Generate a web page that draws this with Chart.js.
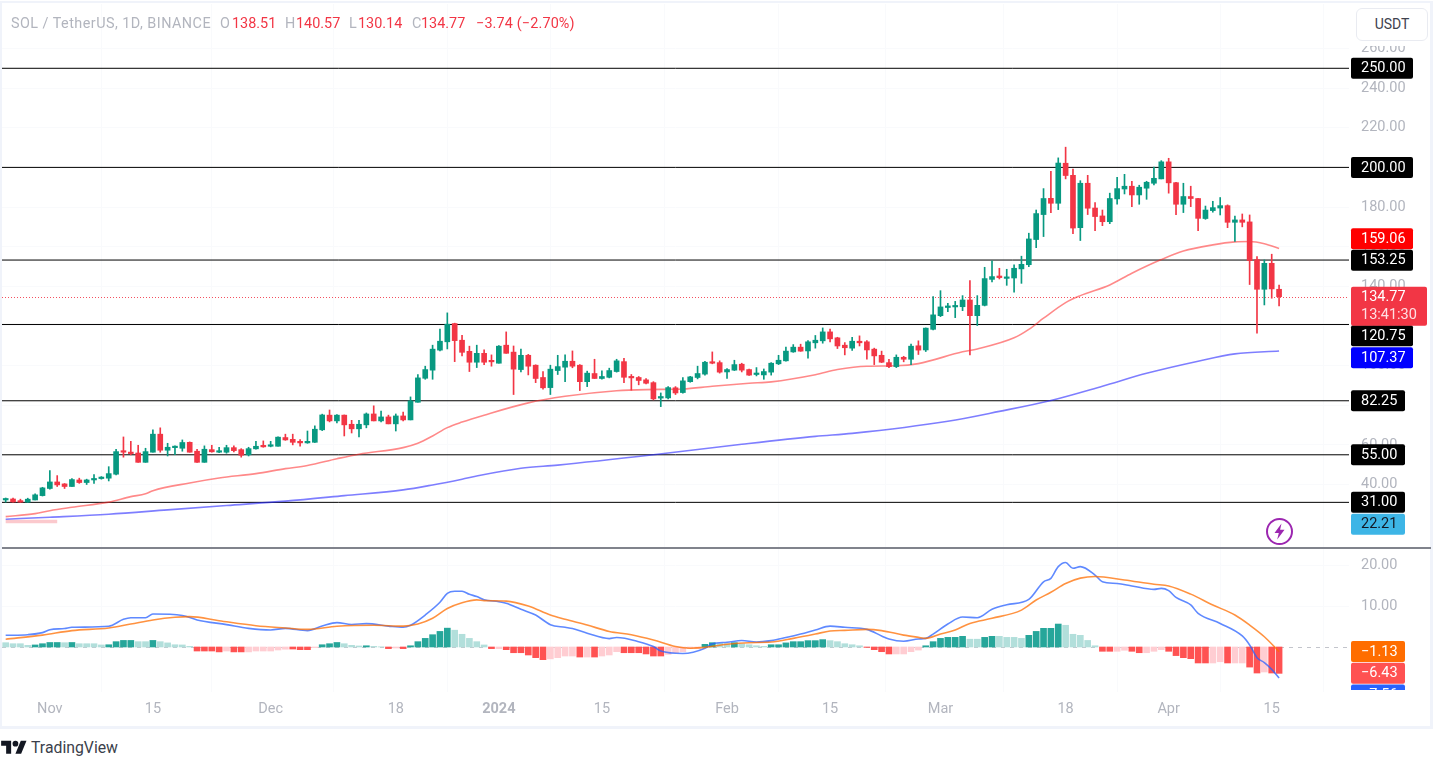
<!DOCTYPE html>
<html><head><meta charset="utf-8">
<script src="https://cdn.jsdelivr.net/npm/chart.js@4"></script>
<style>
html,body{margin:0;padding:0;background:#fff;width:1436px;height:758px;overflow:hidden;font-family:Roboto,sans-serif}
#c{position:absolute;left:0;top:0;filter:blur(.35px)}
.frame{position:absolute;left:0;top:1px;width:1428px;height:723px;border:2px solid #f0f3fa;border-width:2px 3px 3px 2px;pointer-events:none}
.sep{position:absolute;left:2px;top:547px;width:1429px;height:1.5px;background:#80838c}
.hdr{position:absolute;top:15px;font-size:14.4px;line-height:17px;white-space:nowrap}
.g{color:#b2b5be}.r{color:#f23645}
.usdtbg{position:absolute;left:1352px;top:4px;width:78px;height:42px;background:#fff}
.usdt{position:absolute;left:1356px;top:8px;width:70px;height:31px;border:1px solid #e9ebf1;border-radius:6px;background:#fff;color:#3e424e;font-size:14px;line-height:31px;text-align:center}
.tv{position:absolute;left:31px;top:739px;font-size:15.8px;line-height:18px;color:#3b3f4b}
svg{position:absolute}
</style></head><body>
<canvas id="c" width="1436" height="725"></canvas>
<div class="frame"></div><div class="sep"></div>
<div class="hdr g" style="left:11px;letter-spacing:.46px">SOL / TetherUS, 1D, BINANCE</div>
<div class="hdr g" style="left:220px">O</div><div class="hdr r" style="left:232px">138.51</div>
<div class="hdr g" style="left:285px">H</div><div class="hdr r" style="left:296px">140.57</div>
<div class="hdr g" style="left:349px">L</div><div class="hdr r" style="left:358px">130.14</div>
<div class="hdr g" style="left:412px">C</div><div class="hdr r" style="left:421px">134.77</div>
<div class="hdr r" style="left:476px;letter-spacing:.15px">−3.74 (−2.70%)</div>
<div class="usdtbg"></div><div class="usdt">USDT</div>
<svg style="left:1265px;top:517px" width="29" height="29" viewBox="0 0 29 29"><circle cx="14.5" cy="14.5" r="12.5" fill="#fff" stroke="#9c27b0" stroke-width="2"/><path d="M16.5 6.5 9.5 16h4.3l-1.6 6.5 7.3-9.8h-4.4z" fill="#9c27b0"/></svg>
<svg style="left:1px;top:738px" width="26" height="20" viewBox="0 0 36 28"><path d="M14 22H7V11H0V4h14v18zM28 22h-8l7.5-18h8L28 22z" fill="#131722"/><circle cx="20" cy="8" r="4" fill="#131722"/></svg>
<div class="tv">TradingView</div>
<script>
const opens=[32.2,32.7,31.7,31.1,32.2,34.4,38.0,41.3,40.3,39.0,
42.3,41.0,42.3,43.0,43.2,45.2,56.8,56.3,55.9,51.2,
56.3,65.4,57.3,58.6,58.3,61.3,56.8,51.2,57.6,56.3,
56.3,58.6,57.6,55.0,58.0,59.5,59.3,59.3,63.7,62.8,
61.8,61.0,61.3,67.6,75.0,72.1,75.0,70.4,68.1,70.1,
75.6,72.1,74.1,70.6,74.6,72.6,81.5,93.6,97.7,107.8,
112.0,121.2,112.8,107.2,101.7,106.2,102.4,101.2,110.3,106.8,
98.0,105.2,100.2,94.0,88.9,97.5,99.2,102.2,100.2,91.9,
96.0,93.5,94.1,97.0,102.0,94.5,94.0,92.8,91.4,83.6,
83.7,88.8,86.4,91.9,94.0,95.7,101.9,101.5,96.8,97.7,
100.7,98.0,95.5,95.3,96.7,100.9,102.4,106.9,109.3,107.4,
111.5,112.5,117.0,114.0,110.3,108.8,112.3,112.0,108.3,105.2,
101.5,99.5,104.2,103.2,110.0,107.9,118.3,125.2,129.3,129.6,
129.7,133.1,125.2,130.4,143.5,145.2,144.0,144.2,148.8,150.9,
163.6,176.2,184.4,181.9,202.1,196.0,169.6,192.0,179.5,175.5,
172.6,184.1,189.1,190.5,186.1,189.5,192.0,194.2,202.8,192.3,
181.4,185.3,184.3,174.2,178.2,179.5,180.7,172.3,173.5,172.5,
153.5,138.5,151.6,138.51];
const highs=[33.2,33.1,32.6,33.1,35.3,38.6,47.0,44.5,40.5,43.0,
43.2,42.7,45.0,44.0,49.0,57.8,64.0,61.8,59.8,58.3,
67.6,68.6,60.8,59.5,62.5,61.5,57.8,59.5,59.8,58.8,
59.8,59.5,58.1,58.8,61.8,62.0,61.8,64.0,65.4,65.4,
62.7,67.0,69.6,75.5,77.6,75.3,75.1,72.4,72.4,76.1,
79.7,77.0,75.0,75.6,76.6,84.2,95.5,99.7,110.3,118.4,
126.6,121.4,115.3,109.8,110.3,107.9,105.4,110.1,117.0,109.9,
108.3,105.7,100.4,97.0,100.2,105.2,105.4,107.4,100.5,97.2,
103.2,97.3,98.7,103.2,103.7,95.5,94.5,93.5,91.9,86.2,
89.4,89.4,94.0,94.6,99.7,102.2,106.9,102.4,98.5,102.7,
101.2,98.3,99.0,98.3,101.5,105.2,109.3,110.6,110.8,112.6,
115.2,119.0,118.4,114.3,111.6,114.3,115.0,112.6,108.8,107.3,
103.2,105.4,104.7,110.8,112.5,119.0,134.8,137.8,131.4,132.4,
135.3,142.9,135.3,149.6,152.8,149.1,148.6,150.8,155.2,166.8,
178.5,189.3,198.0,204.8,210.2,199.1,193.3,196.0,182.2,178.5,
187.0,195.0,196.5,193.0,191.0,193.0,200.1,203.4,204.6,192.5,
192.0,190.5,184.4,180.5,182.9,184.8,181.1,175.5,176.5,176.0,
155.0,153.3,156.2,140.57];
const lows=[31.1,31.1,31.0,31.0,32.2,34.2,37.6,39.0,38.0,39.0,
40.6,40.0,40.5,42.7,41.8,44.9,53.8,55.0,51.2,51.2,
56.3,56.3,54.4,55.0,56.8,56.3,51.2,51.2,56.3,56.1,
55.8,56.5,53.8,54.4,57.8,58.8,59.0,59.3,62.3,60.0,
59.3,60.8,61.2,67.2,71.6,71.1,64.5,66.0,64.0,68.6,
72.1,71.6,70.6,67.0,72.1,72.6,81.5,93.1,93.1,107.4,
108.4,102.0,104.9,97.0,99.0,100.5,99.7,101.2,106.2,85.4,
96.8,95.3,91.4,88.1,85.4,95.5,91.9,98.9,87.4,89.4,
93.5,93.1,93.8,96.7,91.4,87.6,90.3,90.8,82.7,79.3,
83.2,85.4,86.1,91.6,93.3,95.2,100.9,96.2,93.5,97.5,
96.8,95.0,94.8,93.1,95.2,100.5,102.2,106.7,107.2,103.7,
108.8,111.3,112.0,108.6,105.4,107.6,109.9,103.2,100.5,101.5,
99.0,99.0,101.9,100.5,105.6,107.1,118.0,124.7,127.2,124.2,
127.7,105.4,120.2,130.1,142.2,143.7,140.5,137.0,141.5,149.9,
159.5,165.1,177.2,178.7,194.2,166.6,163.1,176.2,168.1,170.6,
171.6,181.4,186.6,180.2,181.4,183.9,191.1,194.2,187.0,176.2,
177.2,180.2,168.1,173.8,177.4,176.0,169.6,162.6,170.0,140.9,
116.3,130.6,134.0,130.14];
const closes=[32.7,31.2,31.1,32.6,34.8,38.3,41.3,39.8,39.0,42.5,
41.0,42.3,43.0,43.5,45.5,56.6,56.3,55.6,51.2,56.6,
65.4,57.3,58.8,59.1,61.2,56.3,51.2,57.8,56.5,56.8,
58.6,57.1,54.8,58.1,59.3,59.0,60.0,63.9,62.5,61.3,
61.0,61.8,67.9,75.1,72.1,75.0,70.1,68.1,70.4,75.6,
72.1,74.1,70.6,74.6,72.6,82.2,93.8,98.0,108.3,112.3,
120.9,112.6,106.7,101.7,106.2,101.7,101.9,109.8,106.2,98.2,
105.2,99.7,93.5,88.8,98.2,99.5,102.2,99.7,91.9,96.2,
93.5,94.5,97.5,102.4,94.1,93.8,92.5,91.1,83.2,84.4,
88.9,86.2,92.3,94.3,96.0,101.7,101.2,96.7,98.0,100.5,
97.7,95.2,96.2,97.0,101.2,102.7,107.3,109.3,107.3,112.0,
112.8,117.0,113.5,109.9,109.0,112.3,111.5,107.9,104.9,101.7,
99.5,104.2,103.2,109.8,107.8,118.9,125.6,129.6,130.1,130.1,
133.1,125.2,130.4,143.9,144.9,144.4,144.7,149.1,151.1,163.9,
176.7,184.3,181.9,202.2,195.9,169.4,192.0,179.4,175.2,172.6,
184.3,189.3,190.5,186.1,190.0,192.5,194.5,202.8,192.2,181.4,
185.3,184.3,174.3,178.5,179.7,180.7,172.3,173.5,172.3,153.0,
138.5,151.6,138.7,134.77];

const ma50Bars=[0,4,6,9,14,17,19,20,25,29,34,38,41,45,48,54,56,58,60,62,65,71,76,83,87,92,96,101,104,110,113,117,121,124,130,132,137,139,141,144,146,150,153,157,160,164,167,169,171,173];
const ma50Vals=[23.8,25.3,26.8,28.5,31.1,33.9,35.3,36.9,40.8,43.3,45.5,48.0,49.6,53.0,55.3,58.6,60.8,64.5,68.7,71.5,75.0,81.2,84.5,87.3,87.9,88.2,89.6,91.1,91.8,95.4,98.0,99.7,99.9,101.0,107.0,108.4,114.0,118.3,123.9,131.8,135.3,140.7,146.6,153.5,157.8,160.9,162.4,162.6,161.5,159.06];
const ma200Bars=[0,6,14,22,30,38,46,54,58,62,64,70,75,88,100,110,115,128,135,142,149,155,162,167,173];
const ma200Vals=[22.5,23.5,25.0,27.2,29.4,31.6,34.4,37.3,39.8,42.7,44.3,48.2,49.8,55.0,60.3,64.3,65.8,71.9,76.9,82.4,89.6,96.1,102.2,105.9,107.37];
const macdBars=[0,3,5,6,8,9,14,16,17,19,20,24,26,30,33,36,38,41,43,45,47,49,52,54,55,57,59,60,61,62,63,64,65,67,68,70,72,74,76,77,79,82,83,86,88,89,92,95,96,98,100,102,104,106,108,110,112,114,117,119,120,122,124,125,126,128,130,132,134,136,139,141,142,143,144,145,146,148,149,151,153,156,157,158,159,161,162,165,168,169,170,171,172,173];
const macdVals=[2.85,3.0,3.5,4.2,4.5,4.8,5.05,6.75,7.15,7.15,8.05,7.7,6.6,5.45,4.55,4.15,4.55,4.0,5.1,5.95,5.5,5.7,5.1,4.8,5.3,7.8,10.9,13.1,13.6,13.6,12.85,12.3,11.5,11.05,10.65,9.2,7.8,5.45,4.8,4.5,3.35,2.05,2.3,1.3,0.1,-1.0,-1.6,-0.3,0.8,1.15,1.6,1.2,1.55,2.3,3.15,4.15,5.1,4.8,4.3,2.7,1.95,1.4,1.95,2.1,3.15,5.6,7.3,7.15,9.2,10.3,11.6,15.9,16.75,19.6,20.6,19.2,19.6,17.55,15.9,15.5,14.9,14.05,14.3,13.75,12.1,10.25,8.2,5.75,2.7,0.5,-2.6,-3.8,-5.45,-7.56];
const signalBars=[0,5,9,14,17,20,23,25,29,34,38,41,45,50,54,56,58,60,62,64,65,68,71,74,76,79,82,85,88,91,93,95,98,101,104,107,110,112,114,117,119,122,124,125,127,129,131,134,138,140,142,144,146,148,152,156,158,161,164,167,169,171,173];
const signalVals=[1.9,2.9,4.0,4.65,5.6,6.6,7.25,7.4,6.4,5.2,4.65,4.3,5.05,5.3,5.1,5.6,7.0,9.4,10.8,11.5,11.3,11.2,10.0,7.8,6.75,5.35,3.8,3.0,1.7,0.1,-0.3,-0.1,0.65,1.05,1.2,2.1,3.15,3.9,4.05,4.3,4.0,2.9,2.35,2.1,3.15,4.15,5.75,7.0,9.0,11.45,13.35,15.5,16.8,17.2,16.35,15.3,14.9,12.9,10.25,7.8,5.35,2.5,-1.13];
const histVals=[1.05,.8,.8,.4,.5,.8,1.1,1.1,1.05,1.1,
.8,.8,.8,.5,.55,1.3,1.6,1.6,1.3,1.3,
1.6,1.3,1.0,.55,.5,.15,-.98,-.98,-.98,-1.2,
-.98,-1.2,-1.2,-1.2,-.98,-.98,-.98,-.73,-.55,-.5,
-.65,-.65,-.15,.55,.8,1.1,.8,.4,.25,.3,
.15,.05,-.4,-.25,-.4,.3,1.3,2.1,3.0,3.8,
4.6,4.1,3.1,2.1,1.3,.5,-.4,-.4,-.65,-1.4,
-1.4,-1.95,-2.6,-3.1,-2.9,-2.6,-2.2,-2.2,-2.45,-2.45,
-2.45,-2.2,-1.95,-1.15,-1.4,-1.4,-1.4,-1.7,-2.2,-2.2,
-1.8,-1.4,-1.15,-.4,-.4,.65,1.05,.9,.8,1.05,
.75,.55,.3,.15,.55,.55,1,1.3,1.3,1.55,
1.55,1.8,1.55,1.3,.8,.55,.3,-.1,-.65,-1.15,
-1.7,-1.7,-1.7,-1.15,-.75,.3,1.3,2.1,2.35,2.35,
2.6,1.9,1.9,2.35,2.6,2.6,2.35,2.35,2.1,2.85,
3.8,4.55,4.55,5.6,5.3,3.1,2.85,1.6,.3,-1.05,
-1.05,-1.05,-.8,-1.05,-1.4,-1.4,-1.05,-.65,-1.05,-2.1,
-2.6,-2.85,-3.9,-3.9,-3.9,-3.6,-3.9,-3.9,-3.9,-4.9,
-6.35,-6.1,-6.35,-6.43];
const histShade=("LLLLDDDDLD"+"LLLLDDDDLL"+"DLLLLLDDDD"+"LDDLLLLLLD"+"DDLDDDLLLD"+"LLDLDDDDDD"+"DLLLLLDLDD"+"DDDDLLLLDL"+"DLLLDDDDDD"+"LLLLLDDLLD"+"LLLLDDDDDD"+"DDLLLLLDDD"+"DLLLLDDDDD"+"DLLDDLLLLD"+"DDDDLLLLLD"+"DLLDDLLLDD"+"DDDDLLDLLD"+"DLDD").split("");
const levelValues=[250,200,153.25,120.75,82.25,55,31];
const lastPrice=134.77;
const bandBars=[0,7], bandVals=[21.3,21.3];
const priceTicks=[260,240,220,200,180,160,140,120,100,80,60,40];
const macdTicks=[20,10];
const tickDates=["2023-11-01","2023-11-15","2023-12-01","2023-12-18","2024-01-01","2024-01-15","2024-02-01","2024-02-15","2024-03-01","2024-03-18","2024-04-01","2024-04-15"];
const tickTexts=["Nov","15","Dec","18","2024","15","Feb","15","Mar","18","Apr","15"];

const categories=[];
for(let i=0;i<183;i++){const d=new Date(Date.UTC(2023,9,26+i));categories.push(d.toISOString().slice(0,10));}
const GREEN="#089981",RED="#F23645";
const isUp=opens.map((o,i)=>closes[i]>=o);
const sparse=(bars,vals)=>categories.map((_,i)=>{const j=bars.indexOf(i);return j<0?null:vals[j];});
const histColor=histVals.map((v,i)=>v>=0?(histShade[i]==="D"?"#26A69A":"#B2DFDB"):(histShade[i]==="D"?"#FF5252":"#FFCDD2"));
const lineBase={type:"line",pointRadius:0,spanGaps:true,fill:false,cubicInterpolationMode:"monotone"};
const noPad=s=>{s.paddingTop=0;s.paddingBottom=0;s.paddingLeft=0;s.paddingRight=0;};

const badges=[
 {t:"250.00",axis:"y",v:250,bg:"#000",fg:"#fff",w:62},
 {t:"200.00",axis:"y",v:200,bg:"#000",fg:"#fff",w:62},
 {t:"82.25",axis:"y",v:82.25,bg:"#000",fg:"#fff",w:54},
 {t:"55.00",axis:"y",v:55,bg:"#000",fg:"#fff",w:54},
 {t:"31.00",axis:"y",v:31,bg:"#000",fg:"#fff",w:54},
 {t:"22.21",axis:"y",v:22.21,n:4.5,bg:"#3db5e6",fg:"#131722",w:54},
 {t:"159.06",axis:"y",v:159.06,n:-9.8,bg:"#f00",fg:"#fff",w:62},
 {t:"153.25",axis:"y",v:153.25,n:.2,bg:"#000",fg:"#fff",w:62},
 {t:"120.75",axis:"y",v:120.75,n:11.2,bg:"#000",fg:"#fff",w:62},
 {t:"107.37",axis:"y",v:107.37,n:6.8,bg:"#00f",fg:"#fff",w:62},
 {t:"−7.56",axis:"y2",v:-7.56,n:17,bg:"#2962ff",fg:"#fff",w:54,clip:true},
 {t:"−1.13",axis:"y2",v:-1.13,bg:"#ff6d00",fg:"#fff",w:54},
 {t:"−6.43",axis:"y2",v:-6.43,bg:"#ff5252",fg:"#fff",w:54}
];
const FONT="14.5px Roboto, sans-serif";
const overlay={id:"overlay",
 beforeDatasetsDraw(ch){
  const c=ch.ctx,a=ch.chartArea,y=ch.scales.y,y2=ch.scales.y2;
  c.save();
  c.strokeStyle="#000";c.lineWidth=1;
  levelValues.forEach(v=>{const p=y.getPixelForValue(v);c.beginPath();c.moveTo(a.left,p);c.lineTo(a.right,p);c.stroke();});
  const p=Math.round(y.getPixelForValue(lastPrice))+.5;
  c.strokeStyle="#f4505f";c.setLineDash([1,2]);c.beginPath();c.moveTo(a.left,p);c.lineTo(a.right,p);c.stroke();
  const z=Math.round(y2.getPixelForValue(0))+.5;
  c.strokeStyle="#c3c5cc";c.setLineDash([4,5]);c.beginPath();c.moveTo(a.left,z);c.lineTo(a.right,z);c.stroke();
  c.restore();
 },
 afterDraw(ch){
  const c=ch.ctx,a=ch.chartArea;
  const bx=a.right+2,tx=a.right+12;
  c.save();
  c.font=FONT;c.textBaseline="middle";c.textAlign="left";
  badges.forEach(b=>{
   const py=ch.scales[b.axis].getPixelForValue(b.v)+(b.n||0);
   c.save();
   if(b.clip){c.beginPath();c.rect(0,a.top,1436,a.bottom-a.top-2);c.clip();}
   c.fillStyle=b.bg;c.beginPath();c.roundRect(bx,py-10.5,b.w,21,2);c.fill();
   c.fillStyle=b.fg;c.fillText(b.t,tx,py+.5);
   c.restore();
  });
  const py=ch.scales.y.getPixelForValue(lastPrice);
  c.fillStyle=RED;c.beginPath();c.roundRect(bx,py-10,76,39,2);c.fill();
  c.fillStyle="#fff";c.fillText(lastPrice.toFixed(2),tx,py+1);
  c.fillStyle="#ffdfe3";c.fillText("13:41:30",tx,py+18.5);
  c.restore();
 }};

new Chart(document.getElementById("c"),{
 data:{labels:categories,datasets:[
  {label:"Band",...lineBase,yAxisID:"y",data:sparse(bandBars,bandVals),borderColor:"#fbc9cd",borderWidth:3.5,order:9},
  {label:"MA200",...lineBase,yAxisID:"y",data:sparse(ma200Bars,ma200Vals),borderColor:"rgba(40,40,255,.6)",borderWidth:1.6,order:4},
  {label:"MA50",...lineBase,yAxisID:"y",data:sparse(ma50Bars,ma50Vals),borderColor:"rgba(255,40,40,.55)",borderWidth:1.6,order:5},
  {label:"Wick",type:"bar",yAxisID:"y",grouped:false,barThickness:1,data:highs.map((h,i)=>[lows[i],h]),backgroundColor:isUp.map(u=>u?GREEN:RED),order:3},
  {label:"Body",type:"bar",yAxisID:"y",grouped:false,barThickness:5,minBarLength:1.5,data:opens.map((o,i)=>[o,closes[i]]),backgroundColor:isUp.map(u=>u?GREEN:RED),order:2},
  {label:"Histogram",type:"bar",yAxisID:"y2",grouped:false,barThickness:6,data:histVals,backgroundColor:histColor,order:8},
  {label:"Signal",...lineBase,yAxisID:"y2",data:sparse(signalBars,signalVals),borderColor:"rgba(255,109,0,.75)",borderWidth:1.6,order:1},
  {label:"MACD",...lineBase,yAxisID:"y2",data:sparse(macdBars,macdVals),borderColor:"rgba(41,98,255,.75)",borderWidth:1.6,order:1}
 ]},
 plugins:[overlay],
 options:{
  responsive:false,animation:false,devicePixelRatio:1,
  layout:{autoPadding:false,padding:{left:2,top:4,right:0,bottom:0}},
  plugins:{legend:{display:false},tooltip:{enabled:false}},
  scales:{
   x:{type:"category",offset:true,
    grid:{color:"#f9fafc",drawTicks:false},border:{display:false},
    afterBuildTicks:s=>{s.ticks=tickDates.map(d=>({value:categories.indexOf(d)}));},
    afterFit:s=>{s.height=33;noPad(s);},
    ticks:{autoSkip:false,maxRotation:0,padding:9,color:"#b2b5be",
     font:ctx=>({family:"Roboto, sans-serif",size:14.5,weight:ctx.tick&&ctx.tick.label==="2024"?"bold":"normal"}),
     callback:function(v){const i=tickDates.indexOf(categories[v]);return i<0?"":tickTexts[i];}}},
   y:{type:"linear",position:"right",stack:"panes",stackWeight:544,min:7.97,max:282.44,
    grid:{color:"#f9fafc",drawTicks:false},border:{display:false},
    afterBuildTicks:s=>{s.ticks=priceTicks.map(v=>({value:v}));},
    afterFit:s=>{s.width=87;noPad(s);},
    ticks:{padding:12,color:"#b2b5be",font:{family:"Roboto, sans-serif",size:14.5},callback:v=>v.toFixed(2)}},
   y2:{type:"linear",position:"right",stack:"panes",stackWeight:144,min:-10.98,max:24.15,
    grid:{color:"#f9fafc",drawTicks:false},border:{display:false},
    afterBuildTicks:s=>{s.ticks=macdTicks.map(v=>({value:v}));},
    afterFit:s=>{s.width=87;noPad(s);},
    ticks:{padding:12,color:"#b2b5be",font:{family:"Roboto, sans-serif",size:14.5},callback:v=>v.toFixed(2)}}
  }
 }
});
</script>
</body></html>
